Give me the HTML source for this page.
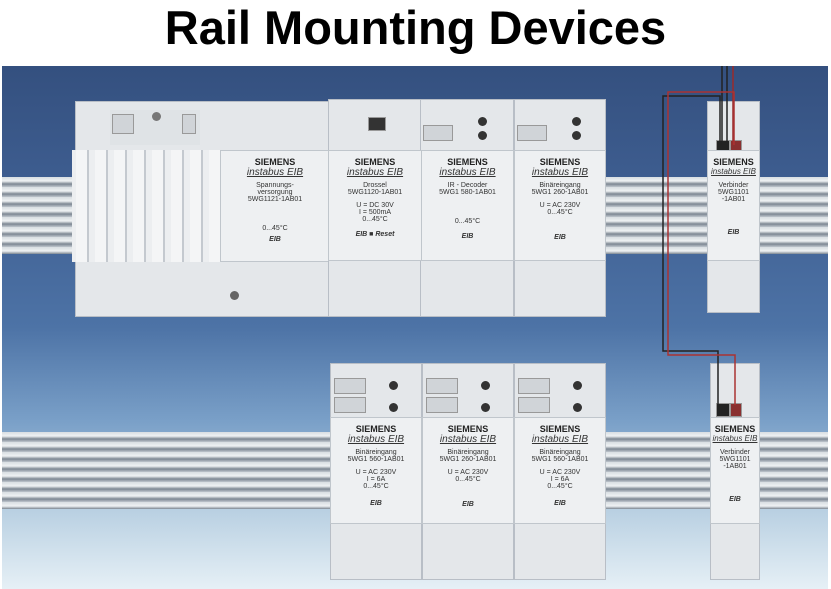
<!DOCTYPE html>
<html><head><style>
body{margin:0;width:831px;height:589px;background:#fff;position:relative;overflow:hidden;font-family:"Liberation Sans",sans-serif}
.a{position:absolute}
.title{left:0;width:831px;top:0px;text-align:center;font-weight:bold;font-size:47px;color:#000}
.photo{left:2px;top:66px;width:826px;height:523px;background:linear-gradient(#34507f 0%,#3f5f92 25%,#4d73a6 50%,#7aa0c8 68%,#b9d0e2 85%,#e6f0f6 100%)}
.rail{background:repeating-linear-gradient(#d8dde2 0px,#eef1f3 4px,#7c8692 7px,#c0c7ce 10px)}
.mod{background:#e4e7ea;border:1px solid #b8bec6;box-sizing:border-box}
.front{background:#eef0f2;border:1px solid #c0c6cc;box-sizing:border-box;text-align:center;font-size:7px;color:#333}
.sm{font-weight:bold;font-size:9px;color:#222;margin-top:6px}
.ib{font-style:italic;text-decoration:underline;font-size:10px;color:#333}
.dot{width:9px;height:9px;border-radius:50%;background:#333}
.fin{background:#f4f5f6;border-right:2px solid #c4c9cf;width:12px}
.term{background:#d0d4d8;border:1px solid #999}
</style></head><body>
<div class="a title">Rail Mounting Devices</div>
<div class="a photo"></div>
<div class="a rail" style="left:2px;top:177px;width:826px;height:77px"></div>
<div class="a rail" style="left:2px;top:432px;width:826px;height:77px"></div>
<div class="a mod" style="left:75px;top:101px;width:255px;height:216px"></div>
<div class="a" style="left:110px;top:110px;width:90px;height:35px;background:#dfe3e6"></div>
<div class="a term" style="left:112px;top:114px;width:20px;height:18px"></div>
<div class="a dot" style="left:152px;top:112px;background:#777"></div>
<div class="a term" style="left:182px;top:114px;width:12px;height:18px"></div>
<div class="a dot" style="left:230px;top:291px;background:#666"></div>
<div class="a" style="left:72px;top:150px;width:150px;height:112px;background:#eceef0;display:flex;gap:6px;padding-left:4px;box-sizing:border-box">
<div class="fin"></div><div class="fin"></div><div class="fin"></div><div class="fin"></div><div class="fin"></div><div class="fin"></div><div class="fin"></div><div class="fin"></div></div>
<div class="a front" style="left:220px;top:150px;width:110px;height:112px"><div class="sm">SIEMENS</div><div class="ib">instabus EIB</div><div style="margin-top:4px">Spannungs-<br>versorgung<br>5WG1121-1AB01</div><div style="margin-top:22px">0...45°C</div><div style="font-style:italic;font-weight:bold;margin-top:4px">EIB</div></div>
<div class="a mod" style="left:328px;top:99px;width:94px;height:218px"></div>
<div class="a mod" style="left:420px;top:99px;width:94px;height:218px"></div>
<div class="a mod" style="left:514px;top:99px;width:92px;height:218px"></div>
<div class="a term" style="left:368px;top:117px;width:16px;height:12px;background:#333"></div>
<div class="a term" style="left:423px;top:125px;width:28px;height:14px"></div>
<div class="a dot" style="left:478px;top:117px"></div><div class="a dot" style="left:478px;top:131px"></div>
<div class="a term" style="left:517px;top:125px;width:28px;height:14px"></div>
<div class="a dot" style="left:572px;top:117px"></div><div class="a dot" style="left:572px;top:131px"></div>
<div class="a front" style="left:328px;top:150px;width:94px;height:111px"><div class="sm">SIEMENS</div><div class="ib">instabus EIB</div><div style="margin-top:4px">Drossel<br>5WG1120-1AB01</div><div style="margin-top:6px">U = DC 30V<br>I = 500mA<br>0...45°C</div><div style="font-style:italic;font-weight:bold;margin-top:8px">EIB ■ Reset</div></div>
<div class="a front" style="left:421px;top:150px;width:93px;height:111px"><div class="sm">SIEMENS</div><div class="ib">instabus EIB</div><div style="margin-top:4px">IR - Decoder<br>5WG1 580-1AB01</div><div style="margin-top:22px">0...45°C</div><div style="font-style:italic;font-weight:bold;margin-top:8px">EIB</div></div>
<div class="a front" style="left:514px;top:150px;width:92px;height:111px"><div class="sm">SIEMENS</div><div class="ib">instabus EIB</div><div style="margin-top:4px">Binäreingang<br>5WG1 260-1AB01</div><div style="margin-top:6px">U = AC 230V<br>0...45°C</div><div style="font-style:italic;font-weight:bold;margin-top:18px">EIB</div></div>
<div class="a mod" style="left:330px;top:363px;width:92px;height:217px"></div>
<div class="a mod" style="left:422px;top:363px;width:92px;height:217px"></div>
<div class="a mod" style="left:514px;top:363px;width:92px;height:217px"></div>
<div class="a term" style="left:334px;top:378px;width:30px;height:14px"></div><div class="a term" style="left:334px;top:397px;width:30px;height:14px"></div>
<div class="a dot" style="left:389px;top:381px"></div><div class="a dot" style="left:389px;top:403px"></div>
<div class="a term" style="left:426px;top:378px;width:30px;height:14px"></div><div class="a term" style="left:426px;top:397px;width:30px;height:14px"></div>
<div class="a dot" style="left:481px;top:381px"></div><div class="a dot" style="left:481px;top:403px"></div>
<div class="a term" style="left:518px;top:378px;width:30px;height:14px"></div><div class="a term" style="left:518px;top:397px;width:30px;height:14px"></div>
<div class="a dot" style="left:573px;top:381px"></div><div class="a dot" style="left:573px;top:403px"></div>
<div class="a front" style="left:330px;top:417px;width:92px;height:107px"><div class="sm">SIEMENS</div><div class="ib">instabus EIB</div><div style="margin-top:4px">Binäreingang<br>5WG1 560-1AB01</div><div style="margin-top:6px">U = AC 230V<br>I = 6A<br>0...45°C</div><div style="font-style:italic;font-weight:bold;margin-top:10px">EIB</div></div>
<div class="a front" style="left:422px;top:417px;width:92px;height:107px"><div class="sm">SIEMENS</div><div class="ib">instabus EIB</div><div style="margin-top:4px">Binäreingang<br>5WG1 260-1AB01</div><div style="margin-top:6px">U = AC 230V<br>0...45°C</div><div style="font-style:italic;font-weight:bold;margin-top:18px">EIB</div></div>
<div class="a front" style="left:514px;top:417px;width:92px;height:107px"><div class="sm">SIEMENS</div><div class="ib">instabus EIB</div><div style="margin-top:4px">Binäreingang<br>5WG1 560-1AB01</div><div style="margin-top:6px">U = AC 230V<br>I = 6A<br>0...45°C</div><div style="font-style:italic;font-weight:bold;margin-top:10px">EIB</div></div>
<div class="a mod" style="left:707px;top:101px;width:53px;height:212px"></div>
<div class="a term" style="left:716px;top:140px;width:12px;height:10px;background:#222"></div><div class="a term" style="left:730px;top:140px;width:10px;height:10px;background:#8a3030"></div>
<div class="a front" style="left:707px;top:150px;width:53px;height:111px"><div class="sm">SIEMENS</div><div class="ib" style="font-size:8px">instabus EIB</div><div style="margin-top:6px">Verbinder<br>5WG1101<br>-1AB01</div><div style="font-style:italic;font-weight:bold;margin-top:26px">EIB</div></div>
<div class="a mod" style="left:710px;top:363px;width:50px;height:217px"></div>
<div class="a term" style="left:716px;top:403px;width:12px;height:12px;background:#222"></div><div class="a term" style="left:730px;top:403px;width:10px;height:12px;background:#8a3030"></div>
<div class="a front" style="left:710px;top:417px;width:50px;height:107px"><div class="sm">SIEMENS</div><div class="ib" style="font-size:8px">instabus EIB</div><div style="margin-top:6px">Verbinder<br>5WG1101<br>-1AB01</div><div style="font-style:italic;font-weight:bold;margin-top:26px">EIB</div></div>
<svg class="a" style="left:0;top:0" width="831" height="589">
<path d="M722 66 V145 M727 66 V145" stroke="#222" stroke-width="1.5" fill="none"/>
<path d="M733 66 V145" stroke="#9a2a2a" stroke-width="1.5" fill="none"/>
<path d="M720 145 V96 H663 V351 H718 V405" stroke="#222" stroke-width="1.5" fill="none"/>
<path d="M734 145 V92 H668 V355 H735 V405" stroke="#a33" stroke-width="1.5" fill="none"/>
</svg>
</body></html>
